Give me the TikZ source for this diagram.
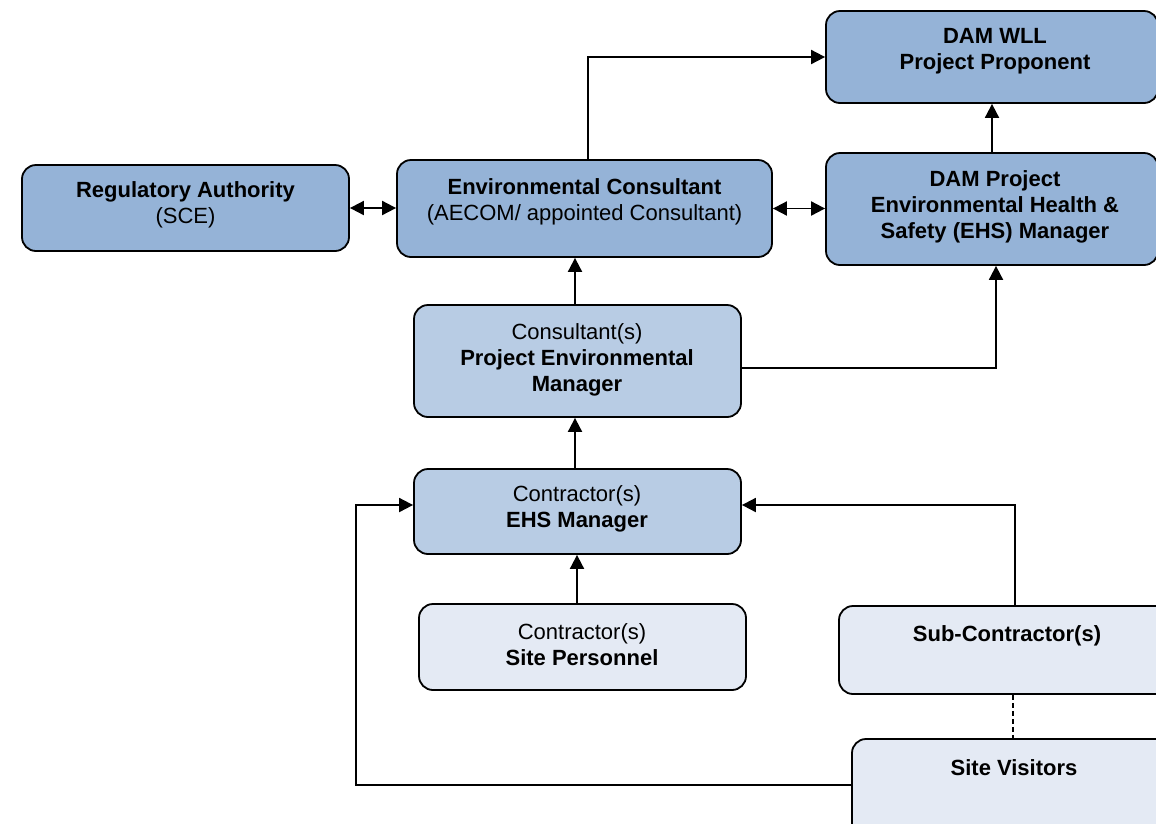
\documentclass[tikz,border=0pt]{standalone}
\usepackage{fontspec}
\setmainfont{Liberation Sans}
\usetikzlibrary{arrows.meta,calc}
\definecolor{bdark}{HTML}{95B3D7}
\definecolor{bmid}{HTML}{B8CCE4}
\definecolor{blight}{HTML}{E4EAF4}
\begin{document}
\begin{tikzpicture}[x=1pt,y=-1pt,
  box/.style={draw=black, line width=1.8pt, rounded corners=14pt, inner sep=0pt},
  txt/.style={align=center, font=\fontsize{22}{26}\selectfont, inner sep=0pt},
  conn/.style={line width=1.9pt, -{Triangle[length=14pt,width=14pt]}},
  dconn/.style={line width=1.9pt, {Triangle[length=14pt,width=14pt]}-{Triangle[length=14pt,width=14pt]}},
  plain/.style={line width=1.9pt}]
\useasboundingbox (0,0) rectangle (1156,823);
\fill[white] (0,0) rectangle (1156,823);

% boxes
\node[box, fill=bdark, minimum width=327, minimum height=86] (ra) at (185.5,208) {};
\node[box, fill=bdark, minimum width=375, minimum height=97] (ec) at (584.5,208.5) {};
\node[box, fill=bdark, minimum width=332, minimum height=92] (wll) at (992,57) {};
\node[box, fill=bdark, minimum width=332, minimum height=112] (ehs) at (992,209) {};
\node[box, fill=bmid, minimum width=327, minimum height=112] (pem) at (577.5,361) {};
\node[box, fill=bmid, minimum width=327, minimum height=85] (cem) at (577.5,511.5) {};
\node[box, fill=blight, minimum width=327, minimum height=86] (sp) at (582.5,647) {};
\node[box, fill=blight, minimum width=336, minimum height=88] (sub) at (1007,650) {};
\node[box, fill=blight, minimum width=324, minimum height=100] (sv) at (1014,789) {};

% texts
\node[txt] (rat) at (185.5,205) {\textbf{Regulatory Authority}\\(SCE)};
\node[txt] (ect) at (584.5,201.5) {\textbf{Environmental Consultant}\\(AECOM/ appointed Consultant)};
\node[txt] (wllt) at (995,51) {\textbf{DAM WLL}\\\textbf{Project Proponent}};
\node[txt] (ehst) at (995,206.5) {\textbf{DAM Project}\\\textbf{Environmental Health \&}\\\textbf{Safety (EHS) Manager}};
\node[txt] (pemt) at (577,359.5) {Consultant(s)\\\textbf{Project Environmental}\\\textbf{Manager}};
\node[txt] (cemt) at (577,509) {Contractor(s)\\\textbf{EHS Manager}};
\node[txt] (spt) at (582,645) {Contractor(s)\\\textbf{Site Personnel}};
\node[txt] (subt) at (1007,636) {\textbf{Sub-Contractor(s)}};
\node[txt] (svt) at (1014,768) {\textbf{Site Visitors}};

% connectors
\draw[conn] ($(ec.north)+(3.5,0)$) |- (wll.west);
\draw[dconn] (ra.east) -- (ra.east -| ec.west);
\draw[dconn] (ec.east) -- (ec.east -| ehs.west);
\draw[conn] (ehs.north) -- (wll.south);
\draw[conn] (pem.north -| 575,0) -- (ec.south -| 575,0);
\draw[conn] ($(pem.east)+(0,7)$) -| ($(ehs.south)+(4,0)$);
\draw[conn] (cem.north -| 575,0) -- (pem.south -| 575,0);
\draw[conn] (sp.north -| 577,0) -- (cem.south -| 577,0);
\draw[conn] ($(sub.north)+(8,0)$) |- ($(cem.east)+(0,-6.5)$);
\draw[conn] ($(sv.west)+(0,-4)$) -- ++(-495,0) |- ($(cem.west)+(0,-6.5)$);
\draw[plain, dashed, dash pattern=on 5pt off 3pt] ($(sub.south)+(6,0)$) -- ($(sv.north)+(-1,0)$);
\end{tikzpicture}
\end{document}
